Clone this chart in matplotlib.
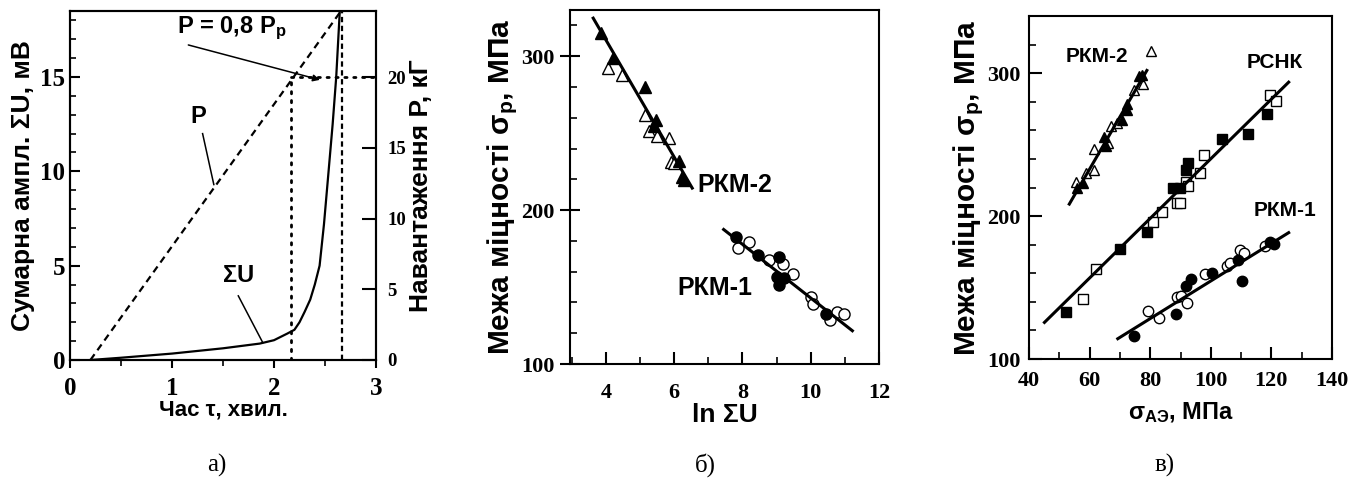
import matplotlib
matplotlib.use("Agg")
import matplotlib.pyplot as plt
from matplotlib.ticker import MultipleLocator

plt.rcParams['font.family'] = ['Liberation Sans', 'DejaVu Sans']
plt.rcParams['mathtext.fontset'] = 'custom'
plt.rcParams['mathtext.rm'] = 'Liberation Sans:bold'
plt.rcParams['mathtext.it'] = 'Liberation Sans:bold'
plt.rcParams['mathtext.bf'] = 'Liberation Sans:bold'

# --- а) сумарна амплітуда АЕ та навантаження від часу ---
t_su = [0.2, 0.5, 1.0, 1.5, 1.86, 2.0, 2.13, 2.2, 2.25, 2.3, 2.355, 2.40,
        2.447, 2.49, 2.535, 2.575, 2.61, 2.645]
su = [0.0, 0.12, 0.34, 0.62, 0.87, 1.05, 1.4, 1.6, 2.0, 2.55, 3.2, 4.0,
      5.0, 7.2, 10.0, 12.5, 15.0, 18.5]
t_load = [0.2, 2.65]
load_kg = [0.0, 24.6]
t_08 = 2.17       # момент досягнення P = 0,8 Pp
p_08 = 20.0       # кГ
t_break = 2.665   # руйнування

# --- б) межа міцності від ln ΣU ---
b_rkm2_fill_x = [3.87, 4.21, 5.16, 5.46, 5.40, 6.13, 6.24, 6.28]
b_rkm2_fill_y = [314.9, 298.7, 279.9, 258.6, 254.7, 232.2, 221.8, 219.6]
b_rkm2_open_x = [4.05, 4.46, 5.14, 5.26, 5.51, 5.84, 5.92, 5.99]
b_rkm2_open_y = [292.2, 287.9, 261.9, 251.7, 248.2, 247.1, 231.5, 230.5]
b_rkm2_fit_x = [3.63, 6.53]
b_rkm2_fit_y = [324.7, 214.3]

b_rkm1_fill_x = [7.80, 8.47, 9.06, 9.00, 9.08, 9.08, 9.23, 10.46]
b_rkm1_fill_y = [182.4, 170.9, 169.4, 156.8, 155.1, 151.4, 155.7, 132.5]
b_rkm1_open_x = [8.18, 7.88, 8.77, 9.18, 9.47, 10.0, 10.07, 10.56, 10.77, 10.98]
b_rkm1_open_y = [179.5, 175.6, 167.6, 165.0, 158.5, 143.8, 138.9, 128.7, 134.0, 132.5]
b_rkm1_fit_x = [7.45, 11.22]
b_rkm1_fit_y = [187.4, 121.6]

# --- в) межа міцності від напружень за АЕ ---
c_rkm2_fill_x = [55.8, 57.9, 65.3, 64.8, 70.6, 72.3, 72.3, 76.4, 77.2]
c_rkm2_fill_y = [219.8, 223.2, 248.8, 255.3, 267.0, 274.5, 278.6, 297.7, 298.4]
c_rkm2_open_x = [55.4, 58.8, 61.6, 61.5, 66.0, 67.0, 69.0, 74.7, 77.6, 80.3]
c_rkm2_open_y = [224.0, 230.2, 232.1, 246.8, 251.1, 262.8, 265.1, 287.9, 292.5, 315.8]
c_rkm2_fit_x = [53.3, 78.9]
c_rkm2_fit_y = [208.4, 301.9]

c_rsnk_fill_x = [52.1, 70.1, 78.9, 87.5, 89.7, 91.8, 92.6, 103.7, 112.4, 118.5]
c_rsnk_fill_y = [133.2, 177.0, 189.1, 219.8, 219.8, 232.1, 236.8, 254.2, 257.2, 271.7]
c_rsnk_open_x = [62.0, 57.9, 80.9, 83.8, 88.8, 89.9, 91.8, 92.6, 96.5, 97.8, 119.6, 121.5]
c_rsnk_open_y = [163.0, 142.1, 196.0, 203.0, 208.9, 208.9, 223.9, 220.9, 230.2, 242.6, 284.5, 280.3]
c_rsnk_fit_x = [45.1, 125.7]
c_rsnk_fit_y = [125.6, 293.7]

c_rkm1_fill_x = [74.5, 88.5, 91.8, 93.5, 100.4, 109.1, 110.3, 119.6, 120.7]
c_rkm1_fill_y = [115.8, 131.4, 151.2, 156.0, 160.4, 169.3, 154.9, 182.1, 180.5]
c_rkm1_open_x = [79.4, 82.9, 88.8, 90.2, 92.3, 98.1, 105.3, 106.2, 109.7, 111.1, 118.0]
c_rkm1_open_y = [133.9, 129.0, 143.7, 144.4, 139.1, 159.3, 165.1, 167.0, 176.3, 174.0, 179.1]
c_rkm1_fit_x = [69.3, 125.7]
c_rkm1_fit_y = [114.2, 188.4]

W, H = 1362, 482
fig = plt.figure(figsize=(W / 100, H / 100), dpi=100)


def box(l, t, r, b):
    return [l / W, 1 - b / H, (r - l) / W, (b - t) / H]


sans = dict(family='Liberation Sans', weight='bold')


def style(ax, size):
    for s in ax.spines.values():
        s.set_linewidth(1.5)
    for lab in ax.get_xticklabels() + ax.get_yticklabels():
        lab.set_fontfamily('Liberation Serif')
        lab.set_fontweight('bold')
        lab.set_fontsize(size)


def pts(ax, x, y, marker, filled, ms):
    ax.plot(x, y, linestyle='none', marker=marker, ms=ms,
            mfc='black' if filled else 'white', mec='black', mew=1.0)


# ================= а) =================
ax = fig.add_axes(box(70, 11, 376, 360))
ax.plot(t_su, su, color='black', lw=1.6)
ax.set_xlim(0, 3)
ax.set_ylim(0, 18.5)
ax.xaxis.set_major_locator(MultipleLocator(1))
ax.xaxis.set_minor_locator(MultipleLocator(0.5))
ax.yaxis.set_major_locator(MultipleLocator(5))
ax.yaxis.set_minor_locator(MultipleLocator(1))
ax.tick_params(axis='y', which='major', direction='in', length=7, width=1.5, right=False)
ax.tick_params(axis='y', which='minor', direction='in', length=4.5, width=1.2, right=False)
ax.tick_params(axis='x', which='major', direction='out', length=6, width=1.5, pad=6)
ax.tick_params(axis='x', which='minor', direction='out', length=4, width=1.2)
style(ax, 18)
ax.set_xlabel('Час τ, хвил.', fontsize=16, labelpad=0, **sans)
ax.set_ylabel('Сумарна ампл. ΣU, мВ', fontsize=19, labelpad=4, **sans)

ax2 = ax.twinx()
ax2.set_ylim(0, 18.5 * 4 / 3)
ax2.plot(t_load, load_kg, color='black', lw=1.6, dashes=(3.2, 2.2))
ax2.plot([t_08, t_08], [0, p_08], color='black', lw=2, linestyle=(0, (0.8, 2.4)),
         dash_capstyle='round')
ax2.plot([t_08, 3], [p_08, p_08], color='black', lw=2, linestyle=(0, (0.8, 2.4)),
         dash_capstyle='round')
ax2.plot([t_break, t_break], [0, 18.5 * 4 / 3], color='black', lw=1.6,
         dashes=(2.4, 1.6))
ax2.yaxis.set_major_locator(MultipleLocator(5))
ax2.tick_params(axis='y', direction='in', length=10, width=1.5, pad=8)
style(ax2, 13.5)
ax2.set_ylabel('Навантаження P, кГ', fontsize=19, labelpad=2, **sans)

ax.text(1.05, 17.6, 'P = 0,8 P$_p$', fontsize=17, va='center', ha='left', **sans)
ax.annotate('', xy=(2.45, 14.85), xytext=(1.16, 16.7),
            arrowprops=dict(arrowstyle='-|>', color='black', lw=1.1,
                            mutation_scale=10, shrinkA=0, shrinkB=0))
ax.text(1.26, 12.9, 'P', fontsize=17, ha='center', va='center', **sans)
ax.plot([1.30, 1.41], [12.0, 9.3], color='black', lw=1.1)
ax.text(1.65, 4.5, 'ΣU', fontsize=17, ha='center', va='center', **sans)
ax.plot([1.65, 1.89], [3.4, 0.92], color='black', lw=1.1)

# ================= б) =================
bx = fig.add_axes(box(570, 10, 879, 364))
pts(bx, b_rkm2_open_x, b_rkm2_open_y, '^', False, 8.5)
pts(bx, b_rkm2_fill_x, b_rkm2_fill_y, '^', True, 8.5)
pts(bx, b_rkm1_open_x, b_rkm1_open_y, 'o', False, 8)
pts(bx, b_rkm1_fill_x, b_rkm1_fill_y, 'o', True, 8)
bx.plot(b_rkm2_fit_x, b_rkm2_fit_y, color='black', lw=2.2)
bx.plot(b_rkm1_fit_x, b_rkm1_fit_y, color='black', lw=2.2)
bx.set_xlim(2.95, 12.0)
bx.set_ylim(100, 330)
bx.xaxis.set_major_locator(MultipleLocator(2))
bx.xaxis.set_minor_locator(MultipleLocator(1))
bx.yaxis.set_major_locator(MultipleLocator(100))
bx.yaxis.set_minor_locator(MultipleLocator(20))
bx.tick_params(which='major', direction='in', length=9, width=1.5, pad=14)
bx.tick_params(which='minor', direction='in', length=5, width=1.2)
bx.tick_params(axis='y', which='major', direction='inout', length=14, pad=4)
style(bx, 16)
bx.set_xlabel('ln ΣU', fontsize=19, labelpad=0, **sans)
bx.set_ylabel('Межа міцності σ$_p$, МПа', fontsize=21.5, labelpad=1, **sans)
bx.text(6.69, 216, 'РКМ-2', fontsize=18, ha='left', va='center', **sans)
bx.text(6.09, 149.5, 'РКМ-1', fontsize=18, ha='left', va='center', **sans)

# ================= в) =================
cx = fig.add_axes(box(1029, 16, 1332, 359))
pts(cx, c_rkm2_open_x, c_rkm2_open_y, '^', False, 7.5)
pts(cx, c_rkm2_fill_x, c_rkm2_fill_y, '^', True, 7.5)
pts(cx, c_rsnk_open_x, c_rsnk_open_y, 's', False, 7)
pts(cx, c_rsnk_fill_x, c_rsnk_fill_y, 's', True, 7)
pts(cx, c_rkm1_open_x, c_rkm1_open_y, 'o', False, 7.5)
pts(cx, c_rkm1_fill_x, c_rkm1_fill_y, 'o', True, 7.5)
cx.plot(c_rkm2_fit_x, c_rkm2_fit_y, color='black', lw=2.2)
cx.plot(c_rsnk_fit_x, c_rsnk_fit_y, color='black', lw=2.2)
cx.plot(c_rkm1_fit_x, c_rkm1_fit_y, color='black', lw=2.2)
cx.set_xlim(40, 140)
cx.set_ylim(100, 340)
cx.xaxis.set_major_locator(MultipleLocator(20))
cx.xaxis.set_minor_locator(MultipleLocator(10))
cx.yaxis.set_major_locator(MultipleLocator(100))
cx.yaxis.set_minor_locator(MultipleLocator(20))
cx.tick_params(which='major', direction='in', length=9, width=1.5, pad=9)
cx.tick_params(axis='y', which='major', pad=6)
cx.tick_params(which='minor', direction='in', length=5, width=1.2)
style(cx, 16)
cx.set_xlabel('σ$_{АЭ}$, МПа', fontsize=17, labelpad=6, **sans)
cx.set_ylabel('Межа міцності σ$_p$, МПа', fontsize=21.5, labelpad=1, **sans)
cx.text(52.2, 311.9, 'РКМ-2', fontsize=15, ha='left', va='center', **sans)
cx.text(111.9, 307.7, 'РСНК', fontsize=15, ha='left', va='center', **sans)
cx.text(114.1, 204.2, 'РКМ-1', fontsize=15, ha='left', va='center', **sans)

# підписи панелей
for x, lab in [(217, 'а)'), (705, 'б)'), (1165, 'в)')]:
    fig.text(x / W, 1 - 465 / H, lab, fontsize=18, family='Liberation Serif',
             ha='center', va='center')

fig.savefig('out.png', dpi=100)
